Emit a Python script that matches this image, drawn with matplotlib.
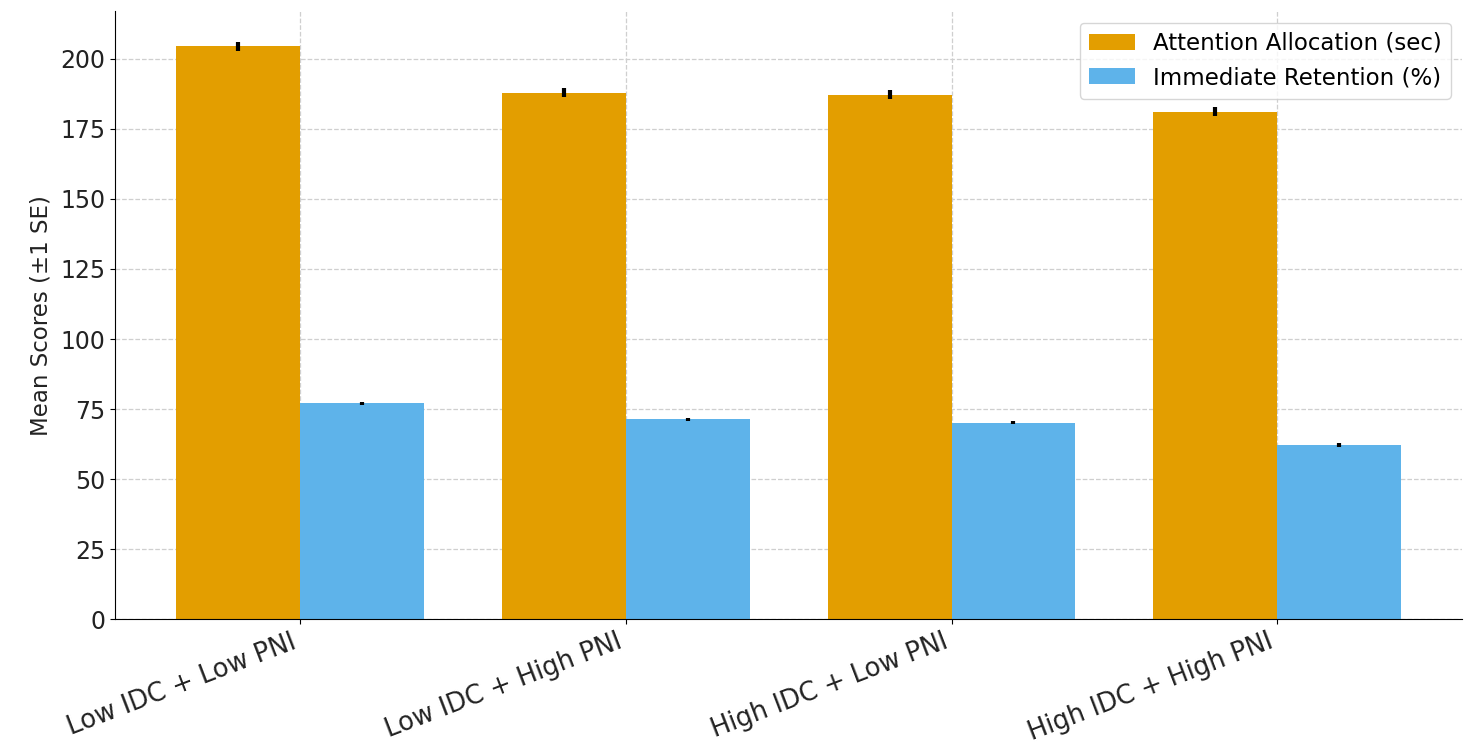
import numpy as np
import matplotlib.pyplot as plt

groups = ["Low IDC + Low PNI", "Low IDC + High PNI", "High IDC + Low PNI", "High IDC + High PNI"]
attention = [204.6, 188.0, 187.2, 181.1]
attention_se = [1.6, 1.6, 1.6, 1.6]
retention = [77.1, 71.4, 70.1, 62.2]
retention_se = [0.5, 0.5, 0.6, 0.6]

x = np.arange(len(groups))
width = 0.38

fig, ax = plt.subplots(figsize=(14.77, 7.55), dpi=100)
ax.bar(x - width / 2, attention, width, yerr=attention_se, color="#E39E00",
       label="Attention Allocation (sec)", error_kw=dict(elinewidth=3, ecolor="black"))
ax.bar(x + width / 2, retention, width, yerr=retention_se, color="#5EB3EA",
       label="Immediate Retention (%)", error_kw=dict(elinewidth=3, ecolor="black"))

ax.set_xticks(x)
ax.set_xticklabels(groups, rotation=21, ha="right", fontsize=18.5, color="#222222")
ax.tick_params(axis="y", labelsize=17, labelcolor="#222222")
ax.set_ylabel("Mean Scores (±1 SE)", fontsize=16.5, color="#222222", labelpad=6)
ax.set_ylim(0, 217)
ax.set_axisbelow(True)
ax.grid(True, linestyle="--", color="#cfcfcf", linewidth=0.9)
ax.spines["top"].set_visible(False)
ax.spines["right"].set_visible(False)
ax.legend(loc="upper right", fontsize=16.5)

plt.subplots_adjust(left=0.078, right=0.99, top=0.985, bottom=0.18)
plt.savefig("out.png", dpi=100)
